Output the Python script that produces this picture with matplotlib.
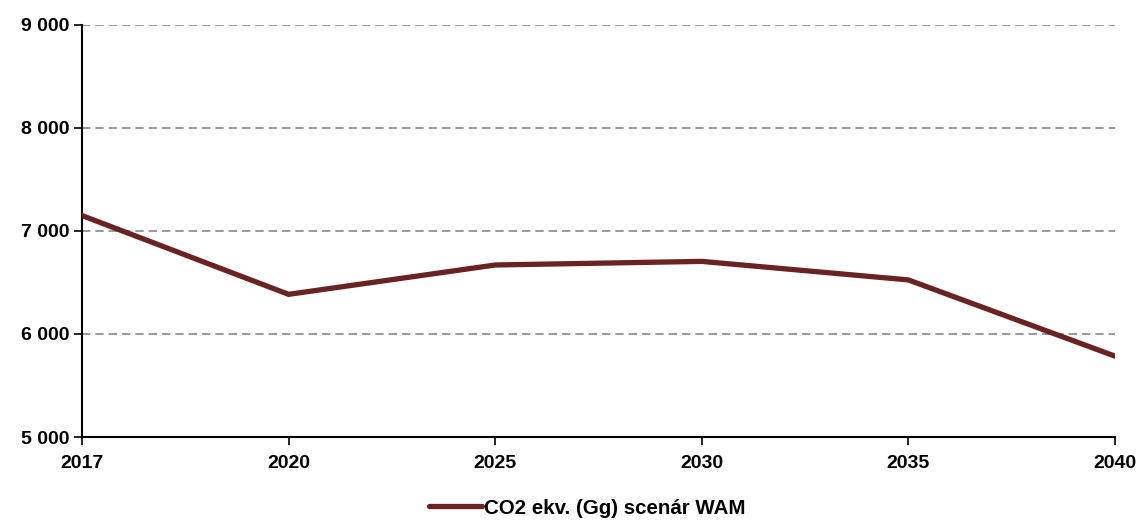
import matplotlib
matplotlib.use("Agg")
import matplotlib.pyplot as plt

years = ["2017", "2020", "2025", "2030", "2035", "2040"]
values = [7150, 6385, 6670, 6705, 6525, 5785]
series_label = "CO2 ekv. (Gg) scenár WAM"
yticks = [5000, 6000, 7000, 8000, 9000]
ytick_labels = ["5 000", "6 000", "7 000", "8 000", "9 000"]

plt.rcParams['font.family'] = ['Liberation Sans', 'DejaVu Sans']
plt.rcParams['font.weight'] = 'bold'

fig = plt.figure(figsize=(11.41, 5.2), dpi=100)
ax = fig.add_axes([82/1141, 1 - 437/520, (1115-82)/1141, (437-25)/520])

x = list(range(len(years)))
ax.plot(x, values, color='#6B2222', linewidth=3.8, solid_capstyle='round', solid_joinstyle='miter', label=series_label, zorder=3)

ax.set_xlim(0, len(years) - 1)
ax.set_ylim(5000, 9000)
ax.set_xticks(x)
ax.set_xticklabels(years, fontsize=14, fontweight='bold')
ax.set_yticks(yticks)
ax.set_yticklabels(ytick_labels, fontsize=14, fontweight='bold')

for v in yticks[1:]:
    ax.axhline(v, color='#888888', linewidth=1.2, linestyle=(0, (5, 3)), zorder=1)

for s in ['top', 'right']:
    ax.spines[s].set_visible(False)
for s in ['left', 'bottom']:
    ax.spines[s].set_color('black')
    ax.spines[s].set_linewidth(1.5)
ax.tick_params(axis='both', direction='out', length=6, width=1.2, color='black')
ax.tick_params(axis='x', pad=7)
ax.tick_params(axis='y', pad=3)

leg = fig.legend(loc='center', bbox_to_anchor=(587/1141, 1 - 508/520), frameon=False,
                 prop={'family': 'Liberation Sans', 'weight': 'bold', 'size': 14.8},
                 handlelength=2.6, handletextpad=0.1)

fig.savefig("out.png", dpi=100)
